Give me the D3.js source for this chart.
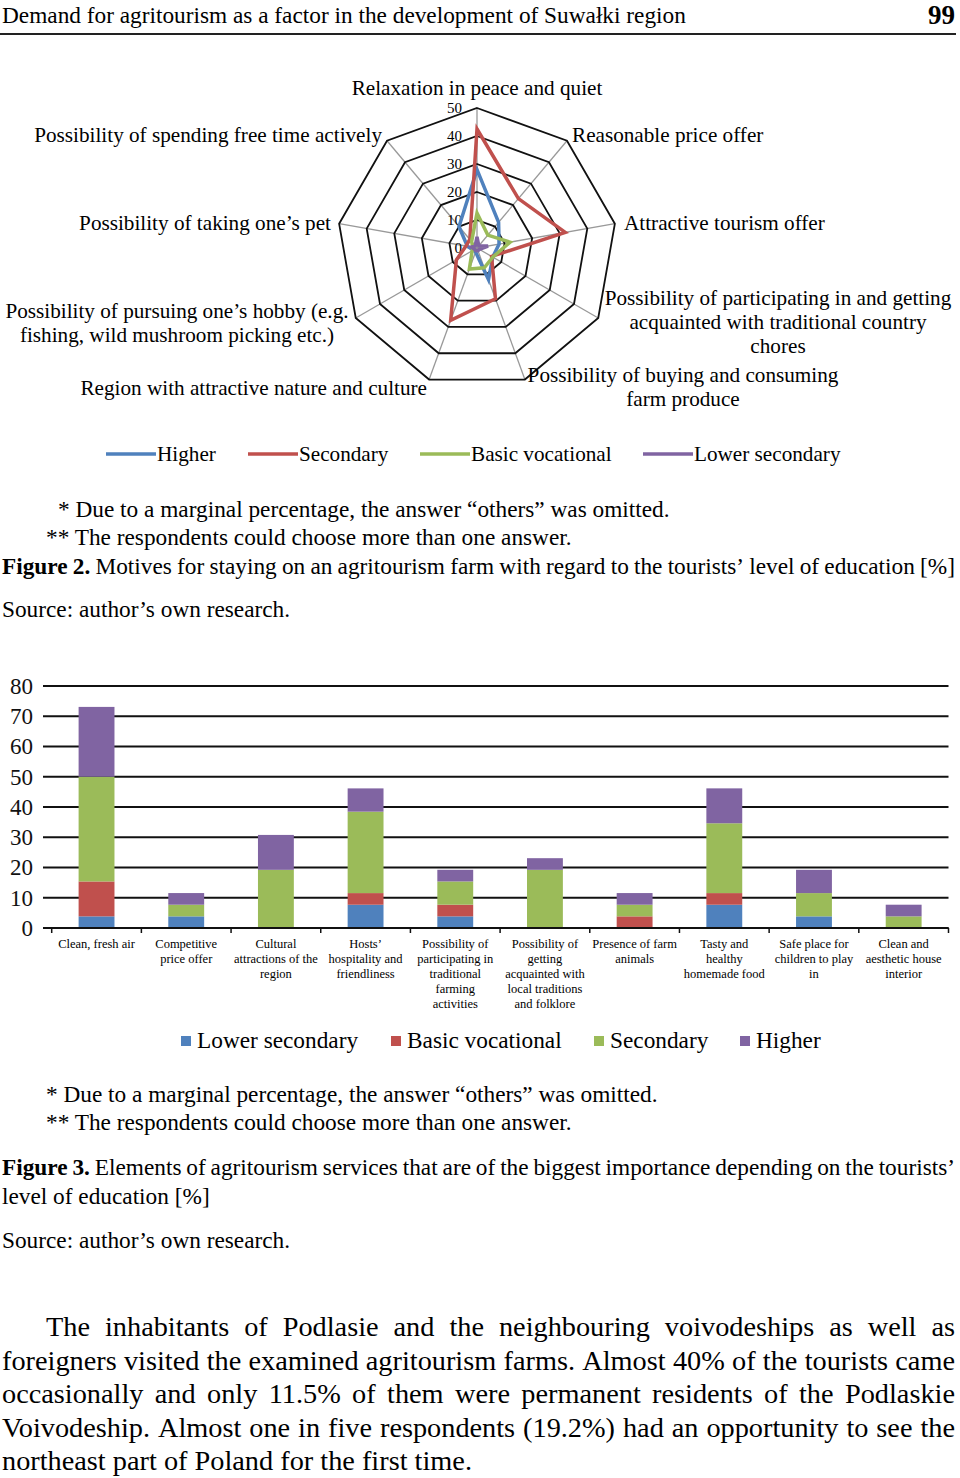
<!DOCTYPE html>
<html>
<head>
<meta charset="utf-8">
<script src="https://cdn.jsdelivr.net/npm/d3@7"></script>
<style>
  body { margin: 0; background: #fff; }
  svg { display: block; font-family: "Liberation Serif", "Times New Roman", serif; }
</style>
</head>
<body>
<div id="page"></div>
<script>
// ---- radar data (Figure 2) ----
const motives = [
  "Relaxation in peace and quiet",
  "Reasonable price offer",
  "Attractive tourism offer",
  "Possibility of participating in and getting acquainted with traditional country chores",
  "Possibility of buying and consuming farm produce",
  "Region with attractive nature and culture",
  "Possibility of pursuing one’s hobby (e.g. fishing, wild mushroom picking etc.)",
  "Possibility of taking one’s pet",
  "Possibility of spending free time actively"
];
const radarSeries = ["Higher", "Secondary", "Basic vocational", "Lower secondary"];
const higherMotives = [28, 12, 8, 6.5, 12, 1.5, 1.5, 3.5, 10];
const secondaryMotives = [42.5, 23, 32, 6, 19.3, 27.5, 8.5, 4, 4];
const basicMotives = [12.5, 6, 12, 6.5, 7.5, 8, 2, 1.5, 3];
const lowerMotives = [4, 1, 4, 1, 1, 1, 1, 2, 1];
const radarTicks = [0, 10, 20, 30, 40, 50];

// ---- stacked bar data (Figure 3) ----
const elements = [
  ["Clean, fresh air"],
  ["Competitive", "price offer"],
  ["Cultural", "attractions of the", "region"],
  ["Hosts’", "hospitality and", "friendliness"],
  ["Possibility of", "participating in", "traditional", "farming", "activities"],
  ["Possibility of", "getting", "acquainted with", "local traditions", "and folklore"],
  ["Presence of farm", "animals"],
  ["Tasty and", "healthy", "homemade food"],
  ["Safe place for", "children to play", "in"],
  ["Clean and", "aesthetic house", "interior"]
];
const barSeries = ["Lower secondary", "Basic vocational", "Secondary", "Higher"];
const lowerSecondary = [3.85, 3.85, 0, 7.69, 3.85, 0, 0, 7.69, 3.85, 0];
const basicVocational = [11.54, 0, 0, 3.85, 3.85, 0, 3.85, 3.85, 0, 0];
const secondary = [34.62, 3.85, 19.23, 26.92, 7.69, 19.23, 3.85, 23.08, 7.69, 3.85];
const higher = [23.08, 3.85, 11.54, 7.69, 3.85, 3.85, 3.85, 11.54, 7.69, 3.85];
const barTicks = [0, 10, 20, 30, 40, 50, 60, 70, 80];

const blue = "#4f81bd", red = "#c0504d", green = "#9bbb59", purple = "#8064a2";
const noteSize = 23.3;

const svg = d3.select("#page").append("svg")
  .attr("width", 960)
  .attr("height", 1478);

svg.append("rect").attr("width", 960).attr("height", 1478).attr("fill", "#fff");

// lays out a line of words from x0 to x1; justified lines get stretched gaps
function wordLine(g, words, x0, x1, y, size, justify) {
  const nodes = words.map(w => {
    const isObj = typeof w === "object";
    return g.append("text")
      .attr("y", y)
      .attr("font-size", size)
      .attr("font-weight", isObj && w.bold ? "bold" : null)
      .text(isObj ? w.t : w);
  });
  const widths = nodes.map(n => n.node().getComputedTextLength());
  const gap = justify && words.length > 1
    ? (x1 - x0 - d3.sum(widths)) / (words.length - 1)
    : size * 0.25;
  let x = x0;
  nodes.forEach((n, i) => { n.attr("x", x); x += widths[i] + gap; });
}

// ---- page header ----
svg.append("text").attr("x", 2).attr("y", 23).attr("font-size", 23.3)
  .text("Demand for agritourism as a factor in the development of Suwałki region");
svg.append("text").attr("x", 955).attr("y", 24).attr("font-size", 27)
  .attr("text-anchor", "end").attr("font-weight", "bold").text("99");
svg.append("line").attr("x1", 0).attr("x2", 956).attr("y1", 34).attr("y2", 34)
  .attr("stroke", "#222").attr("stroke-width", 2);

// ---- radar chart ----
const cx = 477, cy = 248;
const r = d3.scaleLinear().domain([0, 50]).range([0, 140]);
const angle = d3.scaleLinear().domain([0, motives.length]).range([0, 2 * Math.PI]);
const radar = svg.append("g").attr("transform", `translate(${cx},${cy})`);

const pt = (i, v) => [r(v) * Math.sin(angle(i)), -r(v) * Math.cos(angle(i))];

motives.forEach((m, i) => {
  const [x, y] = pt(i, 50);
  radar.append("line").attr("x1", 0).attr("y1", 0).attr("x2", x).attr("y2", y)
    .attr("stroke", "#999").attr("stroke-width", 1.3);
});

radarTicks.slice(1).forEach(t => {
  radar.append("path")
    .attr("d", d3.line().curve(d3.curveLinearClosed)(motives.map((m, i) => pt(i, t))))
    .attr("fill", "none").attr("stroke", "#111").attr("stroke-width", 1.8);
});

radarTicks.forEach(t => {
  radar.append("text").attr("x", -15).attr("y", -r(t)).attr("dy", "0.3em")
    .attr("text-anchor", "end").attr("font-size", 15).text(t);
});

const radarLine = d3.lineRadial()
  .angle((d, i) => angle(i))
  .radius(d => r(d))
  .curve(d3.curveLinearClosed);

[[higherMotives, blue], [secondaryMotives, red], [basicMotives, green], [lowerMotives, purple]]
  .forEach(([vals, col]) => {
    radar.append("path").attr("d", radarLine(vals))
      .attr("fill", "none").attr("stroke", col).attr("stroke-width", 3.5)
      .attr("stroke-linejoin", "miter");
  });

// axis labels of the radar
const radarLabels = [
  { lines: [motives[0]], x: 477, y: 95, anchor: "middle" },
  { lines: [motives[1]], x: 572, y: 142, anchor: "start" },
  { lines: [motives[2]], x: 624, y: 230, anchor: "start" },
  { lines: ["Possibility of participating in and getting", "acquainted with traditional country", "chores"], x: 778, y: 305, anchor: "middle" },
  { lines: ["Possibility of buying and consuming", "farm produce"], x: 683, y: 382, anchor: "middle" },
  { lines: [motives[5]], x: 427, y: 395, anchor: "end" },
  { lines: ["Possibility of pursuing one’s hobby (e.g.", "fishing, wild mushroom picking etc.)"], x: 177, y: 318, anchor: "middle" },
  { lines: [motives[7]], x: 331, y: 230, anchor: "end" },
  { lines: [motives[8]], x: 382, y: 142, anchor: "end" }
];
radarLabels.forEach(l => {
  l.lines.forEach((t, k) => {
    svg.append("text").attr("x", l.x).attr("y", l.y + k * 24)
      .attr("text-anchor", l.anchor).attr("font-size", 21.2).text(t);
  });
});

// radar legend
const radarLegendX = [106, 248, 420, 643];
radarSeries.forEach((s, i) => {
  const col = [blue, red, green, purple][i];
  svg.append("line").attr("x1", radarLegendX[i]).attr("x2", radarLegendX[i] + 50)
    .attr("y1", 454).attr("y2", 454).attr("stroke", col).attr("stroke-width", 3.5);
  svg.append("text").attr("x", radarLegendX[i] + 51).attr("y", 461)
    .attr("font-size", 21.2).text(s);
});

// Figure 2 notes
const notes = svg.append("g");
notes.append("text").attr("x", 58).attr("y", 517).attr("font-size", noteSize)
  .text("* Due to a marginal percentage, the answer “others” was omitted.");
notes.append("text").attr("x", 46).attr("y", 545).attr("font-size", noteSize)
  .text("** The respondents could choose more than one answer.");
wordLine(notes,
  [{ t: "Figure", bold: true }, { t: "2.", bold: true },
   ..."Motives for staying on an agritourism farm with regard to the tourists’ level of education [%]".split(" ")],
  2, 955, 574, noteSize, true);
notes.append("text").attr("x", 2).attr("y", 617).attr("font-size", noteSize)
  .text("Source: author’s own research.");

// ---- stacked bar chart ----
const x = d3.scaleBand().domain(d3.range(elements.length)).range([51.7, 948.5]).paddingInner(0.6).paddingOuter(0.3);
const y = d3.scaleLinear().domain([0, 80]).range([928, 686]);

const bars = svg.append("g");
barTicks.forEach(t => {
  bars.append("line").attr("x1", 43).attr("x2", 948.5).attr("y1", y(t)).attr("y2", y(t))
    .attr("stroke", "#111").attr("stroke-width", 2);
});

bars.append("g")
  .attr("transform", "translate(33,0)")
  .call(d3.axisLeft(y).tickValues(barTicks).tickSize(0).tickPadding(0))
  .call(g => g.select(".domain").remove())
  .selectAll("text")
  .attr("font-family", "Liberation Serif, serif")
  .attr("font-size", 23)
  .attr("fill", "#111");

const stack = d3.stack().keys([0, 1, 2, 3])
  (elements.map((e, i) => [lowerSecondary[i], basicVocational[i], secondary[i], higher[i]]));
const barColors = [blue, red, green, purple];

stack.forEach((layer, k) => {
  bars.append("g").attr("fill", barColors[k])
    .selectAll("rect")
    .data(layer)
    .join("rect")
    .attr("x", (d, i) => x(i))
    .attr("width", x.bandwidth())
    .attr("y", d => y(d[1]))
    .attr("height", d => y(d[0]) - y(d[1]));
});

// bottom axis with tick marks at category borders
const step = x.step();
bars.append("line").attr("x1", 51.7).attr("x2", 948.5).attr("y1", 928).attr("y2", 928)
  .attr("stroke", "#111").attr("stroke-width", 2);
d3.range(elements.length + 1).forEach(i => {
  const tx = 51.7 + i * step;
  bars.append("line").attr("x1", tx).attr("x2", tx).attr("y1", 928).attr("y2", 933)
    .attr("stroke", "#111").attr("stroke-width", 1.5);
});

elements.forEach((lines, i) => {
  lines.forEach((t, k) => {
    bars.append("text").attr("x", x(i) + x.bandwidth() / 2).attr("y", 948 + k * 15)
      .attr("text-anchor", "middle").attr("font-size", 12.5).text(t);
  });
});

// bar legend
const barLegendX = [181, 391, 594, 740];
barSeries.forEach((s, i) => {
  svg.append("rect").attr("x", barLegendX[i]).attr("y", 1036).attr("width", 10).attr("height", 10)
    .attr("fill", barColors[i]);
  svg.append("text").attr("x", barLegendX[i] + 16).attr("y", 1048).attr("font-size", 23.3).text(s);
});

// Figure 3 notes
const notes3 = svg.append("g");
notes3.append("text").attr("x", 46).attr("y", 1102).attr("font-size", noteSize)
  .text("* Due to a marginal percentage, the answer “others” was omitted.");
notes3.append("text").attr("x", 46).attr("y", 1130).attr("font-size", noteSize)
  .text("** The respondents could choose more than one answer.");
wordLine(notes3,
  [{ t: "Figure", bold: true }, { t: "3.", bold: true },
   ..."Elements of agritourism services that are of the biggest importance depending on the tourists’".split(" ")],
  2, 955, 1175, noteSize, true);
notes3.append("text").attr("x", 2).attr("y", 1204).attr("font-size", noteSize)
  .text("level of education [%]");
notes3.append("text").attr("x", 2).attr("y", 1248).attr("font-size", noteSize)
  .text("Source: author’s own research.");

// ---- body paragraph ----
const para = [
  "The inhabitants of Podlasie and the neighbouring voivodeships as well as",
  "foreigners visited the examined agritourism farms. Almost 40% of the tourists came",
  "occasionally and only 11.5% of them were permanent residents of the Podlaskie",
  "Voivodeship. Almost one in five respondents (19.2%) had an opportunity to see the",
  "northeast part of Poland for the first time."
];
const body = svg.append("g");
para.forEach((line, i) => {
  wordLine(body, line.split(" "), i === 0 ? 46 : 2, 955, 1336 + i * 33.6, 28.3, i < para.length - 1);
});
</script>
</body>
</html>
